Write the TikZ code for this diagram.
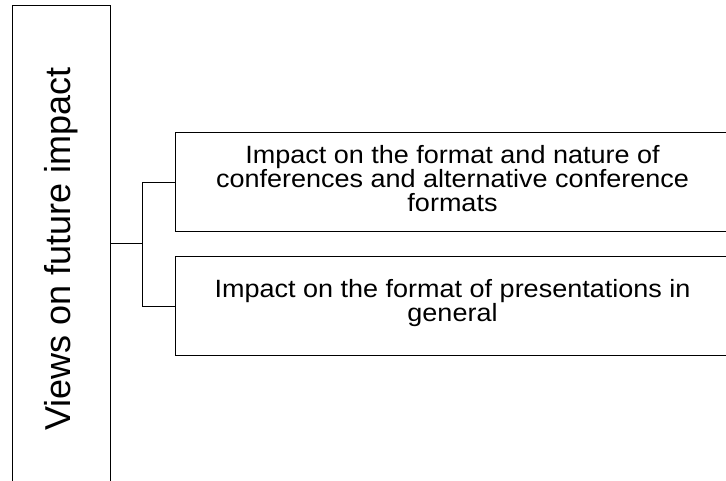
\documentclass[tikz,border=0pt]{standalone}
\usepackage{fontspec}
\setmainfont{Liberation Sans}
\newfontfamily\boxfont[FakeStretch=1.08]{Liberation Sans}
\newcommand\boxtextfont{\boxfont\fontsize{25}{24}\selectfont\setlength{\lineskiplimit}{-50pt}\setlength{\lineskip}{0pt}}
\begin{document}
\begin{tikzpicture}[x=1pt,y=1pt,
  boxline/.style={draw=black, line width=1pt},
  leftbox/.style={boxline, rotate=90, minimum width=486pt, minimum height=98pt, inner sep=0pt,
    font=\fontsize{36}{40}\selectfont},
  topicbox/.style={boxline, minimum width=555pt, minimum height=99pt, inner sep=0pt},
  boxtext/.style={inner sep=0pt, align=center, font=\boxtextfont},
  link/.style={draw=black, line width=1pt}
]
\useasboundingbox (0,0) rectangle (726,480);
\node[leftbox] (views) at (61,231) {Views on future impact};
\node[topicbox] (b1) at (452.5,297.5) {};
\node[topicbox] (b2) at (452.5,174) {};
\node[boxtext] (t1) at ([yshift=4pt]b1.center) {Impact on the format and nature of\\conferences and alternative conference\\formats};
\node[boxtext] (t2) at ([yshift=2.5pt]b2.center) {Impact on the format of presentations in\\general};
\coordinate (j) at (142,236);
\draw[link] (views.south |- j) -- (j);
\draw[link] (j) |- (b1.west);
\draw[link] (j) |- (b2.west);
\end{tikzpicture}
\end{document}
